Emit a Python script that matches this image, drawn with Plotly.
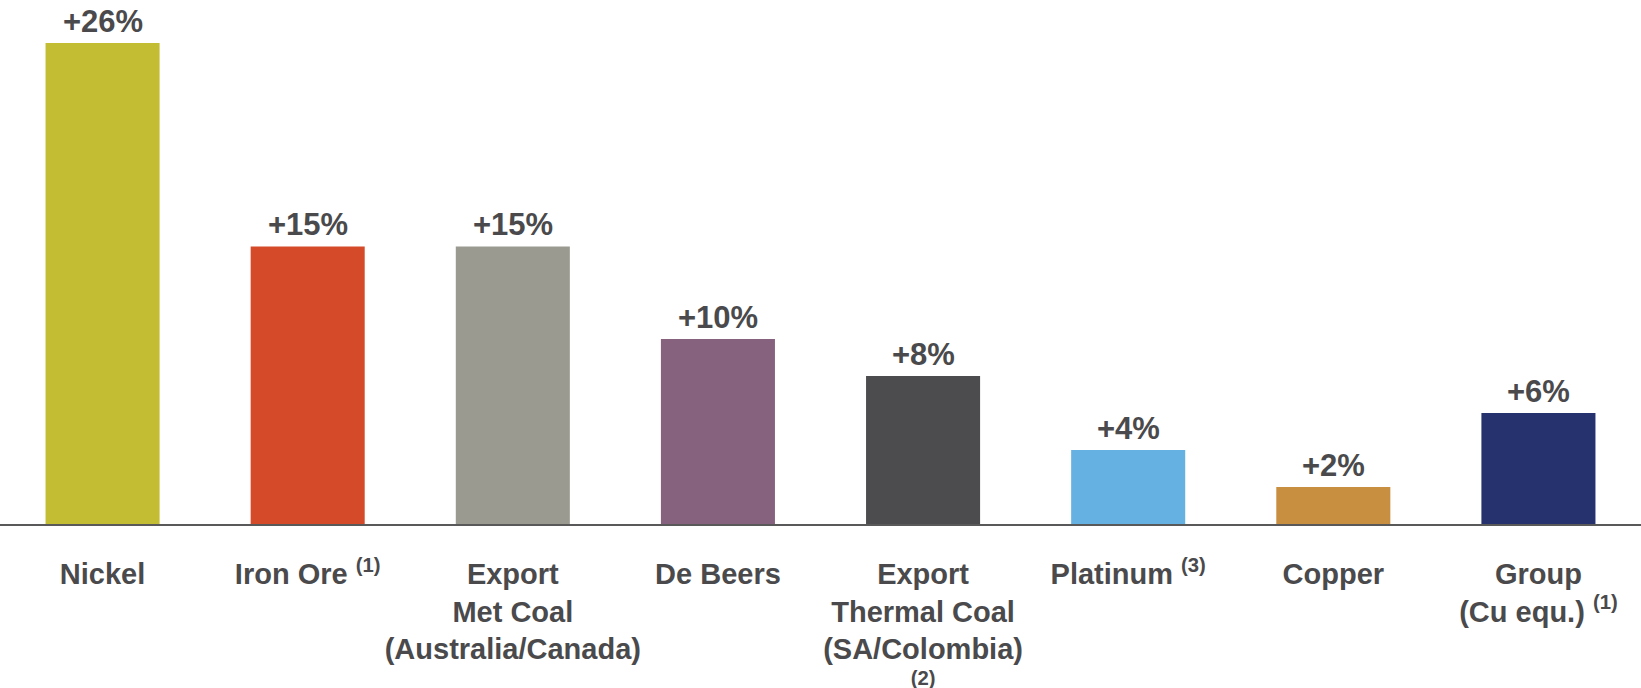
import plotly.graph_objects as go

categories = [
    "Nickel",
    "Iron Ore <sup>(1)</sup>",
    "Export<br>Met Coal<br>(Australia/Canada)",
    "De Beers",
    "Export<br>Thermal Coal<br>(SA/Colombia)<br><sup>(2)</sup>",
    "Platinum <sup>(3)</sup>",
    "Copper",
    "Group<br>(Cu equ.) <sup>(1)</sup>",
]
values = [26, 15, 15, 10, 8, 4, 2, 6]
value_labels = ["+26%", "+15%", "+15%", "+10%", "+8%", "+4%", "+2%", "+6%"]
colors = ["#C3BD33", "#D54B2A", "#9A9A91", "#86627E", "#4C4C4E", "#65B1E1", "#C98F40", "#25326D"]

TEXT = "#4A4A4C"

fig = go.Figure()
fig.add_trace(go.Bar(
    x=categories,
    y=values,
    marker=dict(color=colors, line=dict(width=0)),
    hoverinfo="skip",
))

for c, v, t in zip(categories, values, value_labels):
    fig.add_annotation(
        x=c, y=v, text=t, showarrow=False,
        yanchor="bottom", yshift=2,
        font=dict(family="Arial, Liberation Sans, sans-serif", size=31, color=TEXT, weight="bold"),
    )

fig.update_layout(
    template="none",
    width=1641, height=688,
    margin=dict(l=0, r=0, t=0, b=164, autoexpand=False),
    paper_bgcolor="white", plot_bgcolor="white",
    bargap=0.444,
    showlegend=False,
    xaxis=dict(
        showline=True, linecolor="#595959", linewidth=2,
        showgrid=False, zeroline=False, ticks="",
        tickangle=0, automargin=False,
        ticklabelstandoff=23,
        tickfont=dict(family="Arial, Liberation Sans, sans-serif", size=29, color=TEXT, weight="bold"),
        fixedrange=True,
    ),
    yaxis=dict(
        range=[0, 28.32], visible=False, showgrid=False, zeroline=False, fixedrange=True,
        automargin=False,
    ),
)

fig.write_html("out.html")
